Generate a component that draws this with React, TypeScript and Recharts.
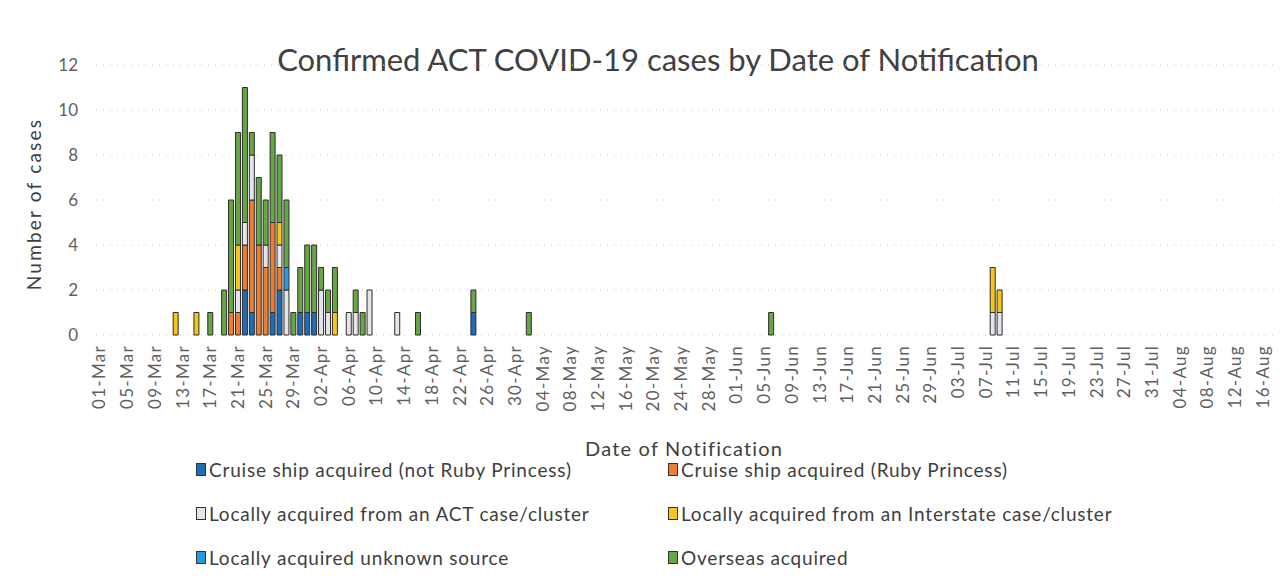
import React from 'react';
import { BarChart, Bar, XAxis, YAxis, CartesianGrid } from 'recharts';

// notification dates, 01-Mar to 18-Aug 2020
const months = [
  ['Mar', 31],
  ['Apr', 30],
  ['May', 31],
  ['Jun', 30],
  ['Jul', 31],
  ['Aug', 18],
] as const;
const dates: string[] = [];
months.forEach(([m, n]) => {
  for (let d = 1; d <= n; d++) dates.push(`${String(d).padStart(2, '0')}-${m}`);
});

const yTicks = [0, 2, 4, 6, 8, 10, 12];

// cases per series: [date, count]
const cruiseOther: [string, number][] = [
  ['22-Mar', 2], ['23-Mar', 1], ['26-Mar', 1], ['27-Mar', 2], ['30-Mar', 1],
  ['31-Mar', 1], ['01-Apr', 1], ['24-Apr', 1],
];
const cruiseRuby: [string, number][] = [
  ['20-Mar', 1], ['21-Mar', 1], ['22-Mar', 2], ['23-Mar', 5], ['24-Mar', 4],
  ['25-Mar', 3], ['26-Mar', 4], ['27-Mar', 1],
];
const localAct: [string, number][] = [
  ['21-Mar', 1], ['22-Mar', 1], ['23-Mar', 2], ['25-Mar', 1], ['27-Mar', 1],
  ['28-Mar', 2], ['02-Apr', 2], ['03-Apr', 1], ['06-Apr', 1], ['07-Apr', 1],
  ['09-Apr', 2], ['13-Apr', 1], ['08-Jul', 1], ['09-Jul', 1],
];
const localInterstate: [string, number][] = [
  ['12-Mar', 1], ['15-Mar', 1], ['21-Mar', 2], ['27-Mar', 1], ['04-Apr', 1],
  ['08-Jul', 2], ['09-Jul', 1],
];
const localUnknown: [string, number][] = [['28-Mar', 1]];
const overseas: [string, number][] = [
  ['17-Mar', 1], ['19-Mar', 2], ['20-Mar', 5], ['21-Mar', 5], ['22-Mar', 6],
  ['23-Mar', 1], ['24-Mar', 3], ['25-Mar', 2], ['26-Mar', 4], ['27-Mar', 3],
  ['28-Mar', 3], ['29-Mar', 1], ['30-Mar', 2], ['31-Mar', 3], ['01-Apr', 3],
  ['02-Apr', 1], ['03-Apr', 1], ['04-Apr', 2], ['07-Apr', 1], ['08-Apr', 1],
  ['16-Apr', 1], ['24-Apr', 1], ['02-May', 1], ['06-Jun', 1],
];

const series = [
  { key: 'cruiseOther', name: 'Cruise ship acquired (not Ruby Princess)', color: '#1f6db5', values: cruiseOther },
  { key: 'cruiseRuby', name: 'Cruise ship acquired (Ruby Princess)', color: '#ed7d31', values: cruiseRuby },
  { key: 'localAct', name: 'Locally acquired from an ACT case/cluster', color: '#e4e4ea', values: localAct },
  { key: 'localInterstate', name: 'Locally acquired from an Interstate case/cluster', color: '#f5c518', values: localInterstate },
  { key: 'localUnknown', name: 'Locally acquired unknown source', color: '#2a9ad8', values: localUnknown },
  { key: 'overseas', name: 'Overseas acquired', color: '#67a644', values: overseas },
];

const data = dates.map((date) => {
  const row: Record<string, string | number> = { date };
  series.forEach((s) => {
    const hit = s.values.find(([d]) => d === date);
    if (hit) row[s.key] = hit[1];
  });
  return row;
});

const FONT = 'Lato, "Open Sans", sans-serif';
const GREY = '#5f5f5f';

const DateTick = (props: any) => {
  const { x, y, payload } = props;
  const ty = y + 2;
  return (
    <text
      x={x}
      y={ty}
      dy={6}
      transform={`rotate(-90 ${x} ${ty})`}
      textAnchor="end"
      fontSize={17}
      letterSpacing={1.3}
      fill={GREY}
      fontFamily={FONT}
    >
      {payload.value}
    </text>
  );
};

const legendRows = [
  [series[0], series[1]],
  [series[2], series[3]],
  [series[4], series[5]],
];

export default function App() {
  return (
    <div style={{ position: 'relative', width: 1277, height: 576, fontFamily: FONT, background: '#fff' }}>
      <div
        style={{
          position: 'absolute',
          top: 32,
          left: 0,
          width: 1300,
          textAlign: 'center',
          fontSize: 31,
          color: '#404040',
        }}
      >
        Confirmed ACT COVID-19 cases by Date of Notification
      </div>
      <div
        style={{
          position: 'absolute',
          left: 25,
          top: 196,
          transform: 'translate(-50%, -50%) rotate(-90deg)',
          fontSize: 19,
          color: '#404040',
          whiteSpace: 'nowrap',
          letterSpacing: 2.2,
        }}
      >
        Number of cases
      </div>
      <BarChart
        width={1277}
        height={576}
        data={data}
        margin={{ top: 57, right: 5, left: 28, bottom: 149 }}
        barCategoryGap={1}
      >
        <CartesianGrid vertical={false} stroke="#c8c8c8" strokeDasharray="1 6" />
        <XAxis
          dataKey="date"
          interval={3}
          tick={<DateTick />}
          tickLine={false}
          axisLine={false}
          height={100}
        />
        <YAxis
          ticks={yTicks}
          domain={[0, 12]}
          width={60}
          tickLine={false}
          axisLine={false}
          tickSize={0}
          tickMargin={18}
          tick={{ fontSize: 17, fill: GREY, fontFamily: FONT }}
        />
        {series.map((s) => (
          <Bar
            key={s.key}
            dataKey={s.key}
            name={s.name}
            stackId="cases"
            fill={s.color}
            stroke="#2d2d2d"
            strokeWidth={1}
            isAnimationActive={false}
          />
        ))}
      </BarChart>
      <div
        style={{
          position: 'absolute',
          top: 428,
          left: 577,
          fontSize: 20,
          letterSpacing: 1.2,
          color: '#404040',
        }}
      >
        Date of Notification
      </div>
      {legendRows.map((row, ri) => (
        <div key={ri} style={{ position: 'absolute', top: 450 + ri * 44, left: 0, width: 1277, height: 24 }}>
          {row.map((s, ci) => (
            <div
              key={s.key}
              style={{
                position: 'absolute',
                left: ci === 0 ? 188 : 660,
                top: 0,
                display: 'flex',
                alignItems: 'center',
                fontSize: 19,
                letterSpacing: 0.8,
                color: '#404040',
                whiteSpace: 'nowrap',
              }}
            >
              <span
                style={{
                  display: 'inline-block',
                  width: 8,
                  height: 11,
                  background: s.color,
                  border: '1px solid #333',
                  marginRight: 3,
                }}
              />
              {s.name}
            </div>
          ))}
        </div>
      ))}
    </div>
  );
}
